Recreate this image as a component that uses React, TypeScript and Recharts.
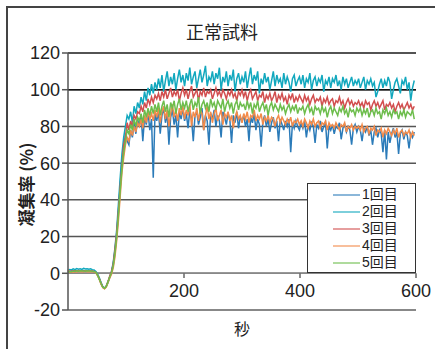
import React from 'react';
import { LineChart, Line, XAxis, YAxis, CartesianGrid, ReferenceLine, Legend } from 'recharts';

const TITLE = '正常試料';
const X_LABEL = '秒';
const Y_LABEL = '凝集率 (%)';
const X_TICKS = [200, 400, 600];
const Y_TICKS = [-20, 0, 20, 40, 60, 80, 100, 120];
const STEP_SECONDS = 3;

const SERIES_NAMES = ['1回目', '2回目', '3回目', '4回目', '5回目'];
const SERIES_KEYS = ['r1', 'r2', 'r3', 'r4', 'r5'];
const SERIES_COLORS = ['#2b7bb9', '#12a8be', '#d24f4f', '#f38b4a', '#6dbd4c'];

// 1回目
const RUN1_BASE = [0.8, 1.2, 1, 1.4, 1.1, 1.5, 1.2, 1.4, 1.3, 1.5, 1.2, 1.4, 1.3, 1.2, 1.1, 1];
const RUN1_RISE = [0.6, -1, -3, -5.5, -7.5, -8.2, -7, -4.5, -2, 0.5, 5, 12, 21, 34, 48, 62, 66, 76, 72];
const RUN1_PLATEAU = [
  70, 78, 74, 82, 76, 84,
  80, 86, 72, 85, 81, 88, 78, 84, 52, 87,
  83, 88, 76, 86, 90, 82, 87, 70, 85, 89, 81, 86, 74, 88, 84, 90,
  83, 87, 79, 89, 84, 72, 86, 88, 81, 85, 90, 78, 86, 83, 70, 87, 84, 89, 80, 86, 83, 74, 88, 85, 81, 87, 84, 71, 86, 82, 88, 79, 85, 83,
  86, 80, 84, 72, 85, 82, 87, 78, 84, 81, 69, 83, 86, 80, 84, 77, 82, 85, 79, 83, 72, 84, 81, 78, 83, 80, 84, 66, 82, 79, 83, 80, 78,
  82, 79, 83, 74, 81, 78, 82, 80, 71, 81, 79, 83, 77, 80, 82, 68, 80, 78, 81, 76, 80, 79, 82, 73, 79, 81, 77, 80, 78, 70, 79, 81, 77,
  80, 78, 72, 79, 77, 80, 75, 78, 70, 77, 79, 74, 78, 76, 66, 78, 62, 77, 71, 76, 79, 74, 77, 65, 76, 78, 73, 77, 75, 68, 76, 74, 77,
];

// 2回目
const RUN2_BASE = [1.5, 2, 1.8, 2.4, 2, 2.6, 2.2, 2.5, 2.1, 2.7, 2.3, 2.5, 2.2, 2.4, 2, 1.8];
const RUN2_RISE = [1, -0.5, -2.5, -5, -7.2, -8, -7.2, -5, -2, 1, 6, 14, 24, 38, 52, 65, 74, 80, 86];
const RUN2_PLATEAU = [
  84, 88, 82, 91, 87, 93,
  90, 96, 92, 99, 94, 101, 97, 103, 98, 104,
  100, 106, 101, 108, 99, 105, 110, 102, 107, 103, 109, 100, 106, 111, 104, 108,
  102, 109, 105, 112, 103, 107, 110, 101, 106, 111, 104, 108, 113, 102, 107, 105, 110, 103, 109, 106, 112, 100, 107, 104, 110, 102, 108, 105, 111, 99, 106, 109, 103, 107,
  104, 110, 101, 107, 112, 103, 108, 105, 110, 98, 106, 103, 109, 104, 107, 100, 105, 110, 102, 108, 104, 106, 101, 109, 103, 107, 104, 99, 106, 108, 102, 105, 107,
  103, 108, 101, 106, 104, 109, 100, 105, 107, 102, 106, 104, 108, 99, 105, 103, 107, 101, 106, 104, 108, 102, 105, 100, 107, 103, 106, 101, 104, 107, 102, 105, 103,
  106, 101, 104, 107, 100, 105, 103, 106, 102, 104, 96, 99, 103, 106, 101, 105, 102, 107, 104, 95, 100, 104, 106, 102, 98, 105, 103, 107, 100, 104, 94, 101, 105,
];

// 3回目
const RUN3_BASE = [1.5, 0.8, 1.2, 1, 1.4, 1.1, 1.5, 1.2, 1.3, 1, 1.4, 1.2, 1.3, 1.1, 1.2, 1];
const RUN3_RISE = [0.5, -1, -3, -5.5, -7.5, -8.3, -7, -4.5, -1.5, 1, 5, 13, 22, 34, 47, 58, 70, 74, 82];
const RUN3_PLATEAU = [
  78, 83, 80, 86, 84, 88,
  87, 91, 88, 93, 90, 95, 92, 96, 93, 97,
  95, 98, 94, 99, 96, 100, 95, 98, 101, 96, 99, 97, 100, 94, 98, 101,
  97, 100, 95, 99, 102, 96, 98, 100, 94, 99, 97, 101, 96, 99, 98, 100, 95, 98, 101, 97, 99, 96, 100, 98, 95, 99, 97, 100, 96, 98, 94, 99, 97, 100,
  96, 99, 94, 98, 100, 95, 97, 99, 94, 97, 96, 99, 93, 97, 95, 98, 94, 96, 99, 93, 97, 95, 98, 94, 96, 92, 97, 95, 98, 93, 96, 94, 97,
  95, 93, 97, 94, 96, 92, 95, 97, 93, 95, 94, 96, 91, 95, 93, 96, 92, 94, 95, 91, 94, 93, 96, 92, 94, 90, 93, 95, 92, 94, 91, 93, 92,
  94, 91, 93, 90, 94, 92, 93, 89, 92, 94, 91, 93, 90, 92, 94, 89, 92, 91, 93, 90, 92, 88, 91, 93, 90, 92, 89, 91, 93, 90, 92, 89, 91,
];

// 4回目
const RUN4_BASE = [2, 0.5, 0.8, 0.6, 1, 0.7, 1.1, 0.9, 1, 0.8, 1.1, 0.9, 1, 0.8, 0.9, 0.7];
const RUN4_RISE = [0.3, -1.2, -3.4, -6, -7.8, -8.4, -7.5, -5, -2.5, -0.5, 3, 9, 18, 29, 42, 55, 63, 70, 74];
const RUN4_PLATEAU = [
  72, 78, 75, 80, 77, 82,
  80, 84, 79, 86, 82, 88, 84, 87, 83, 89,
  85, 90, 82, 88, 91, 84, 89, 80, 87, 92, 85, 89, 83, 90, 86, 91,
  84, 89, 86, 92, 80, 88, 85, 90, 83, 89, 87, 78, 86, 91, 84, 88, 82, 87, 90, 83, 86, 89, 81, 87, 85, 88, 83, 86, 79, 85, 88, 84, 86, 82,
  87, 84, 88, 82, 86, 85, 89, 83, 86, 84, 87, 81, 85, 83, 86, 82, 85, 84, 80, 84, 86, 82, 85, 83, 81, 84, 82, 85, 80, 83, 82, 84, 81,
  83, 80, 84, 82, 79, 83, 81, 84, 80, 82, 83, 79, 82, 81, 83, 78, 82, 80, 81, 79, 82, 80, 78, 81, 80, 82, 77, 80, 79, 81, 78, 80, 79,
  80, 78, 81, 77, 79, 80, 76, 79, 78, 80, 75, 78, 77, 79, 74, 78, 76, 79, 77, 75, 78, 76, 79, 74, 77, 78, 75, 77, 76, 78, 74, 77, 75,
];

// 5回目
const RUN5_BASE = [0.6, 1, 0.8, 1.2, 1, 1.3, 1.1, 1.4, 1.2, 1.3, 1.1, 1.4, 1.2, 1.3, 1.1, 0.9];
const RUN5_RISE = [0.5, -1, -3.2, -5.6, -7.6, -8.2, -7.1, -4.6, -2, 0.3, 4, 11, 20, 32, 45, 57, 66, 72, 78];
const RUN5_PLATEAU = [
  76, 81, 78, 84, 80, 85,
  83, 87, 82, 89, 85, 90, 86, 91, 87, 92,
  88, 93, 86, 91, 94, 88, 92, 85, 93, 90, 94, 87, 92, 95, 89, 93,
  90, 94, 88, 92, 95, 89, 93, 91, 96, 87, 92, 94, 90, 93, 88, 95, 91, 93, 89, 94, 92, 90, 95, 88, 92, 94, 90, 93, 87, 92, 94, 89, 93, 91,
  92, 89, 94, 90, 93, 87, 92, 90, 94, 88, 91, 93, 89, 92, 86, 91, 93, 89, 92, 90, 88, 92, 89, 91, 87, 90, 92, 88, 91, 89, 92, 87, 90,
  89, 91, 87, 90, 92, 88, 90, 86, 91, 89, 90, 87, 91, 88, 90, 85, 89, 91, 87, 90, 88, 86, 90, 88, 91, 87, 89, 85, 90, 88, 89, 86, 90,
  88, 90, 86, 89, 87, 90, 85, 88, 89, 86, 90, 87, 88, 84, 89, 87, 90, 86, 88, 85, 89, 87, 88, 84, 88, 86, 89, 85, 88, 87, 86, 89, 84,
];

const RUNS = [
  [...RUN1_BASE, ...RUN1_RISE, ...RUN1_PLATEAU],
  [...RUN2_BASE, ...RUN2_RISE, ...RUN2_PLATEAU],
  [...RUN3_BASE, ...RUN3_RISE, ...RUN3_PLATEAU],
  [...RUN4_BASE, ...RUN4_RISE, ...RUN4_PLATEAU],
  [...RUN5_BASE, ...RUN5_RISE, ...RUN5_PLATEAU],
];

const SECONDS = RUNS[0].map((_, i) => i * STEP_SECONDS);

const data = SECONDS.map((t, i) => {
  const row: Record<string, number> = { t };
  SERIES_KEYS.forEach((k, s) => {
    row[k] = RUNS[s][i];
  });
  return row;
});

const FONT = "'Liberation Sans', 'Noto Sans CJK JP', Arial, sans-serif";
const CJK = "'Noto Sans CJK JP', 'Liberation Sans', sans-serif";

const XTick = (props: any) => {
  const { x, y, payload } = props;
  return (
    <text x={x} y={y - 13} textAnchor="middle" fontSize={18} fill="#222" fontFamily={FONT}>
      {payload.value}
    </text>
  );
};

const YLabel = (props: any) => {
  const vb = props.viewBox || { x: 0, y: 53, width: 68, height: 257 };
  const cy = vb.y + vb.height / 2 + 3;
  return (
    <text
      x={25}
      y={cy}
      transform={`rotate(-90, 25, ${cy})`}
      textAnchor="middle"
      dominantBaseline="central"
      fontSize={17}
      fontWeight="bold"
      fill="#222"
      fontFamily={CJK}
    >
      {Y_LABEL}
    </text>
  );
};

const XLabel = (props: any) => {
  const vb = props.viewBox || { x: 68, y: 310, width: 348, height: 39 };
  return (
    <text x={vb.x + vb.width / 2} y={335} textAnchor="middle" fontSize={16} fill="#222" fontFamily={CJK}>
      {X_LABEL}
    </text>
  );
};

const LegendBox = () => (
  <div
    style={{
      width: 109,
      height: 90,
      boxSizing: 'border-box',
      border: '1px solid #333',
      background: '#fff',
      paddingTop: 2,
    }}
  >
    {SERIES_NAMES.map((name, i) => (
      <div key={name} style={{ display: 'flex', alignItems: 'center', height: 17, overflow: 'visible' }}>
        <span
          style={{
            display: 'inline-block',
            width: 27,
            height: 0,
            borderTop: `2px solid ${SERIES_COLORS[i]}`,
            opacity: 0.55,
            marginLeft: 25,
            marginRight: 2,
          }}
        />
        <span
          style={{
            display: 'inline-block',
            height: 17,
            fontSize: 14,
            color: '#222',
            fontFamily: FONT,
            lineHeight: '17px',
            whiteSpace: 'nowrap',
          }}
        >
          {name}
        </span>
      </div>
    ))}
  </div>
);

export default function App() {
  return (
    <div
      style={{
        position: 'absolute',
        left: 0,
        top: 0,
        width: 435,
        height: 349,
        background: '#fff',
        overflow: 'hidden',
      }}
    >
      <div
        style={{
          position: 'absolute',
          left: 6,
          top: 6,
          width: 440,
          height: 360,
          borderTop: '2px solid #444',
          borderLeft: '2px solid #444',
        }}
      />
      <div
        style={{
          position: 'absolute',
          left: 122,
          width: 200,
          top: 19,
          textAlign: 'center',
          fontSize: 18,
          fontFamily: CJK,
          color: '#222',
          lineHeight: '24px',
        }}
      >
        {TITLE}
      </div>
      <div style={{ position: 'absolute', left: 0, top: 0 }}>
        <LineChart width={435} height={349} data={data} margin={{ top: 53, right: 19, bottom: 0, left: 0 }}>
          <CartesianGrid vertical={false} stroke="#555" strokeWidth={1.5} />
          <ReferenceLine y={120} stroke="#444" strokeWidth={1.5} />
          <ReferenceLine y={100} stroke="#111" strokeWidth={1.5} />
          <ReferenceLine y={0} stroke="#888" strokeWidth={1.5} />
          <ReferenceLine y={-20} stroke="#888" strokeWidth={1.5} />
          {X_TICKS.map((t) => (
            <ReferenceLine
              key={t}
              segment={[
                { x: t, y: 0 },
                { x: t, y: -2.6 },
              ]}
              stroke="#666"
              strokeWidth={1.5}
            />
          ))}
          <XAxis
            dataKey="t"
            type="number"
            domain={[0, 600]}
            ticks={X_TICKS}
            interval={0}
            height={39}
            tickSize={0}
            tickMargin={0}
            tickLine={false}
            axisLine={{ stroke: '#888', strokeWidth: 1.5 }}
            tick={<XTick />}
            label={<XLabel />}
          />
          <YAxis
            type="number"
            domain={[-20, 120]}
            ticks={Y_TICKS}
            interval={0}
            width={68}
            allowDataOverflow
            tickSize={6}
            tickMargin={2}
            tickLine={{ stroke: '#555', strokeWidth: 1.5 }}
            axisLine={{ stroke: '#555', strokeWidth: 1.5 }}
            tick={{ fontSize: 18, fill: '#222', fontFamily: FONT }}
            label={<YLabel />}
          />
          {SERIES_KEYS.map((k, i) => (
            <Line
              key={k}
              type="linear"
              dataKey={k}
              name={SERIES_NAMES[i]}
              stroke={SERIES_COLORS[i]}
              strokeWidth={1.5}
              dot={false}
              activeDot={false}
              isAnimationActive={false}
            />
          ))}
          <Legend
            layout="vertical"
            verticalAlign="middle"
            align="center"
            content={<LegendBox />}
            wrapperStyle={{ left: 307, top: 183, width: 109, height: 90 }}
          />
        </LineChart>
      </div>
    </div>
  );
}
